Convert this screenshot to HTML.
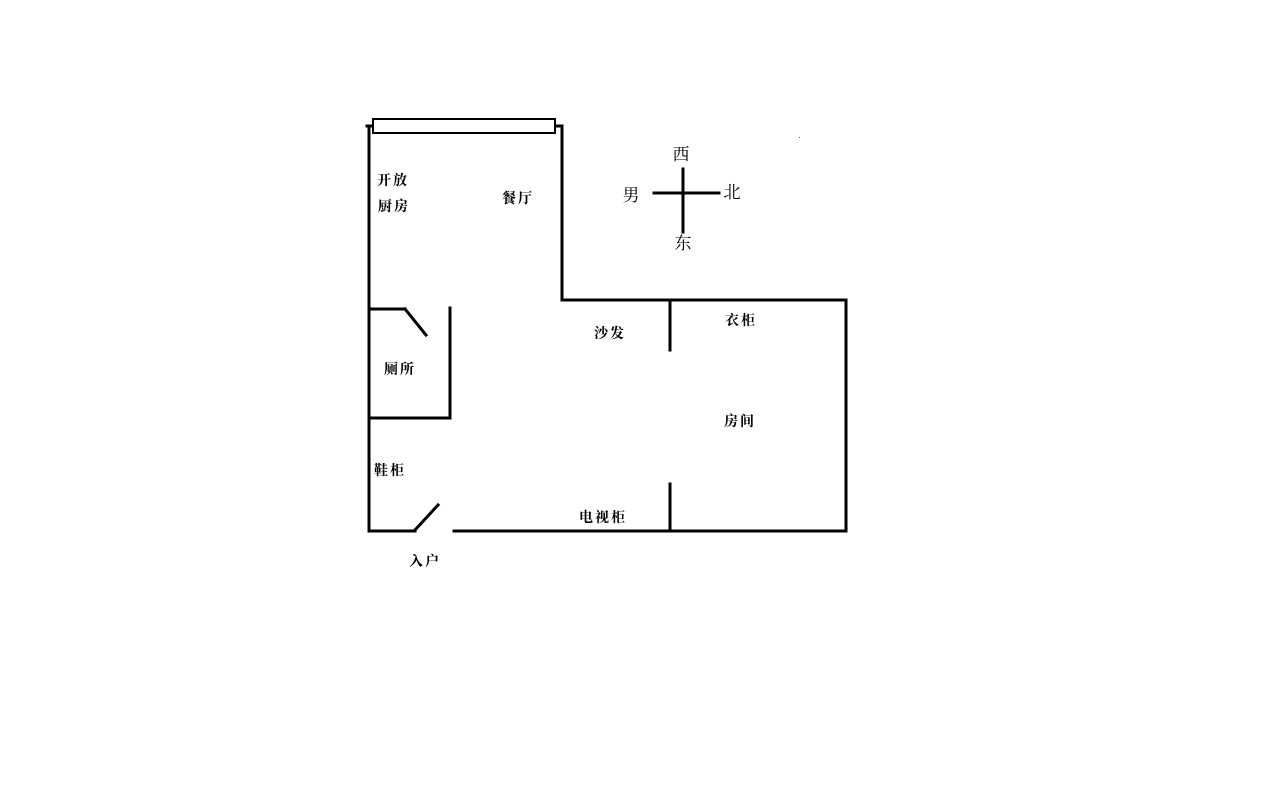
<!DOCTYPE html>
<html><head><meta charset="utf-8"><style>
html,body{margin:0;padding:0;background:#fff;width:1266px;height:802px;overflow:hidden}
svg{display:block}
text{font-family:"Liberation Serif","Noto Serif CJK SC","Noto Sans CJK SC",serif;font-weight:bold;fill:#000}
.room text{letter-spacing:2px}
.cmp text{font-weight:normal}
</style></head><body>
<svg width="1266" height="802" viewBox="0 0 1266 802">
<g stroke="#000" stroke-width="3" fill="none" stroke-linecap="square">
<rect x="373" y="119" width="182" height="14" stroke-width="2"/>
<line x1="369" y1="126" x2="369" y2="531"/>
<line x1="367" y1="126" x2="372" y2="126"/>
<line x1="556" y1="126" x2="562" y2="126"/>
<line x1="562" y1="126" x2="562" y2="300"/>
<line x1="562" y1="300" x2="846" y2="300"/>
<line x1="846" y1="300" x2="846" y2="531"/>
<line x1="454" y1="531" x2="846" y2="531"/>
<line x1="369" y1="531" x2="415" y2="531"/>
<line x1="415" y1="530" x2="438" y2="505"/>
<line x1="670" y1="300" x2="670" y2="350"/>
<line x1="670" y1="484" x2="670" y2="531"/>
<line x1="369" y1="309" x2="405" y2="309"/>
<line x1="405" y1="309" x2="426" y2="335"/>
<line x1="450" y1="308" x2="450" y2="418"/>
<line x1="369" y1="418" x2="450" y2="418"/>
<line x1="683" y1="169" x2="683" y2="232"/>
<line x1="654" y1="193" x2="719" y2="193"/>
</g>
<g class="room" font-size="14">
<text x="377" y="185">开放</text>
<text x="378" y="211">厨房</text>
<text x="502" y="203">餐厅</text>
<text x="594" y="338">沙发</text>
<text x="725" y="325">衣柜</text>
<text x="384" y="374">厕所</text>
<text x="724" y="426">房间</text>
<text x="374" y="475">鞋柜</text>
<text x="579" y="522">电视柜</text>
<text x="409" y="566">入户</text>
</g>
<g class="cmp" font-size="17" text-anchor="middle">
<text x="681" y="160">西</text>
<text x="631" y="201">男</text>
<text x="732" y="198">北</text>
<text x="683" y="249">东</text>
</g>
<rect x="799" y="137" width="1" height="1" fill="#555"/>
</svg>
</body></html>
